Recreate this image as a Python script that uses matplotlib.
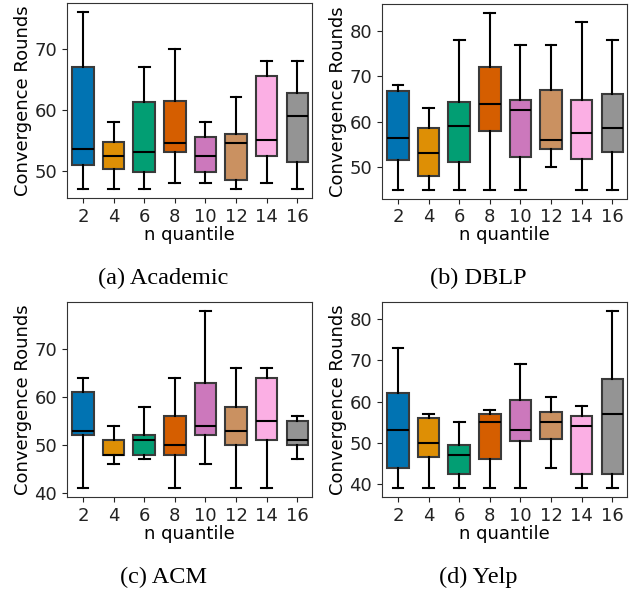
import numpy as np
import matplotlib.pyplot as plt

## values: whisker low, q1, median, q3, whisker high
quantiles = [2, 4, 6, 8, 10, 12, 14, 16]
colors = ['#0173B2', '#DE8F05', '#029E73', '#D55E00',
          '#CC78BC', '#CA9161', '#FBAFE4', '#949494']

academic_lo  = [47, 47, 47, 48, 48, 47, 48, 47]
academic_q1  = [51, 50.25, 49.75, 53, 49.75, 48.5, 52.5, 51.5]
academic_med = [53.5, 52.5, 53, 54.5, 52.5, 54.5, 55, 59]
academic_q3  = [67, 54.75, 61.25, 61.5, 55.5, 56, 65.5, 62.75]
academic_hi  = [76, 58, 67, 70, 58, 62, 68, 68]

dblp_lo  = [45, 45, 45, 45, 45, 50, 45, 45]
dblp_q1  = [51.5, 48, 51, 58, 52.25, 54, 51.75, 53.25]
dblp_med = [56.5, 53, 59, 64, 62.5, 56, 57.5, 58.5]
dblp_q3  = [66.75, 58.5, 64.25, 72, 64.75, 67, 64.75, 66]
dblp_hi  = [68, 63, 78, 84, 77, 77, 82, 78]

acm_lo  = [41, 46, 47, 41, 46, 41, 41, 47]
acm_q1  = [52, 48, 48, 48, 52, 50, 51, 50]
acm_med = [53, 48, 51, 50, 54, 53, 55, 51]
acm_q3  = [61, 51, 52, 56, 63, 58, 64, 55]
acm_hi  = [64, 54, 58, 64, 78, 66, 66, 56]

yelp_lo  = [39, 39, 39, 39, 39, 44, 39, 39]
yelp_q1  = [44, 46.5, 42.5, 46, 50.5, 51, 42.5, 42.5]
yelp_med = [53, 50, 47, 55, 53, 55, 54, 57]
yelp_q3  = [62, 56, 49.5, 57, 60.5, 57.5, 56.5, 65.5]
yelp_hi  = [73, 57, 55, 58, 69, 61, 59, 82]

panels = [
    ('(a) Academic', academic_lo, academic_q1, academic_med, academic_q3, academic_hi),
    ('(b) DBLP', dblp_lo, dblp_q1, dblp_med, dblp_q3, dblp_hi),
    ('(c) ACM', acm_lo, acm_q1, acm_med, acm_q3, acm_hi),
    ('(d) Yelp', yelp_lo, yelp_q1, yelp_med, yelp_q3, yelp_hi),
]

# axes rectangles in pixels: left, top, right, bottom
W, H = 641, 593
boxes_px = [(67, 3, 312, 198), (382, 4, 627, 198.5),
            (67, 302, 312, 497), (382, 302, 627, 497)]

fig = plt.figure(figsize=(W / 100, H / 100), dpi=100)

for (title, lo, q1, med, q3, hi), (l, t, r, b) in zip(panels, boxes_px):
    ax = fig.add_axes([l / W, 1 - b / H, (r - l) / W, (b - t) / H])
    stats = []
    for i in range(len(quantiles)):
        stats.append(dict(whislo=lo[i], q1=q1[i], med=med[i], q3=q3[i],
                          whishi=hi[i], fliers=[]))
    bp = ax.bxp(stats, positions=np.arange(len(quantiles)), widths=0.7,
                patch_artist=True, showfliers=False,
                boxprops=dict(edgecolor='#3a3a3a', linewidth=1.5),
                whiskerprops=dict(color='black', linewidth=1.5),
                capprops=dict(color='black', linewidth=1.5),
                medianprops=dict(color='black', linewidth=1.5))
    for patch, c in zip(bp['boxes'], colors):
        patch.set_facecolor(c)
    ax.set_xlim(-0.52, 7.48)
    ax.set_xticks(np.arange(len(quantiles)))
    ax.set_xticklabels([str(q) for q in quantiles])
    ax.tick_params(labelsize=13, colors='#222222')
    ax.set_xlabel('n quantile', fontsize=13, labelpad=0)
    ax.set_ylabel('Convergence Rounds', fontsize=13, labelpad=2)
    for s in ax.spines.values():
        s.set_color('#333333')
    cx = (l + r) / 2 - 26
    fig.text(cx / W, 1 - (b + 80) / H, title, ha='center', va='center',
             fontsize=17.5, family='Liberation Serif')

plt.savefig('out.png', dpi=100)
